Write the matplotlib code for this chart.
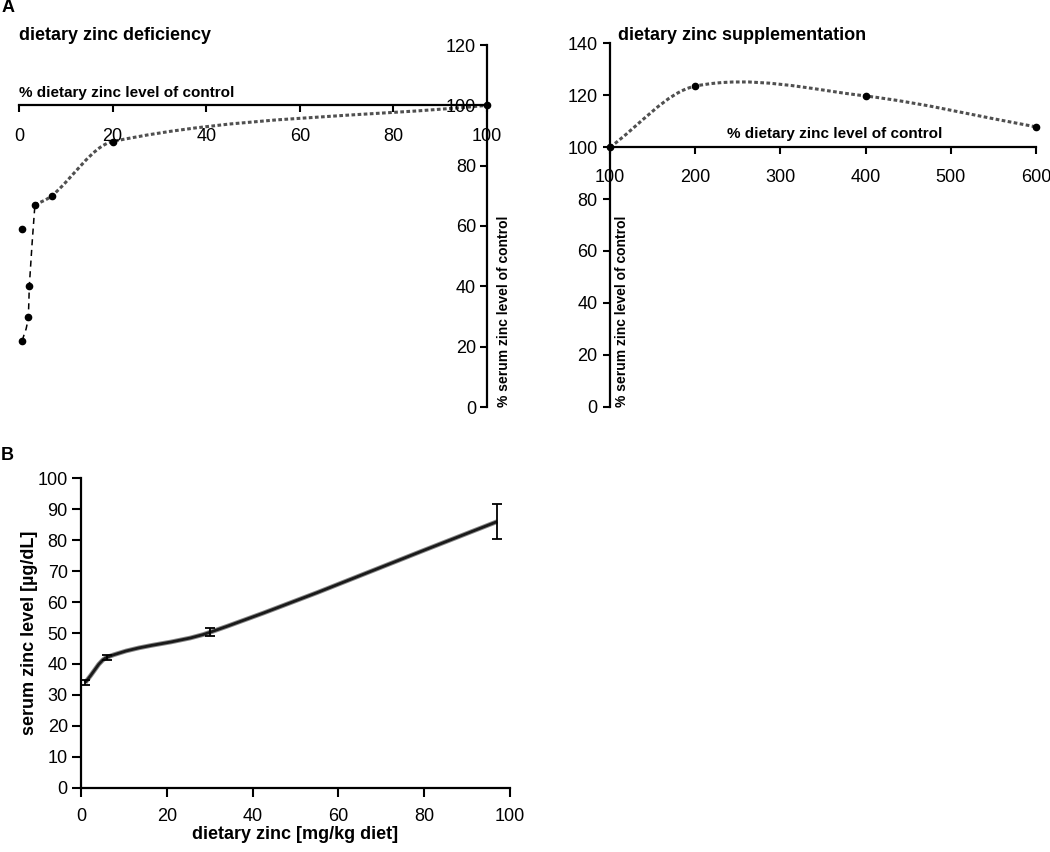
import numpy as np
import matplotlib
matplotlib.use("Agg")
import matplotlib.pyplot as plt
from matplotlib.path import Path
from matplotlib.patches import PathPatch

# -----------------------------------
# Data
# -----------------------------------

# panel A left: dietary zinc deficiency, % of control
defic_low_x = [0.7, 2.0, 2.2, 3.4]
defic_low_y = [22, 30, 40, 67]
defic_x = [3.4, 7, 20, 100]
defic_y = [67, 70, 88, 100]
defic_single_x = [0.7]
defic_single_y = [59]

# panel A right: dietary zinc supplementation, % of control
suppl_x = [100, 200, 400, 600]
suppl_y = [100, 123.5, 119.7, 107.8]

# panel B: serum zinc vs dietary zinc
diet_zinc = [1, 6, 30, 97]
serum_zinc = [34, 42.1, 50.2, 86]
serum_err = [0.7, 0.9, 1.3, 5.6]

A_xticks = [0, 20, 40, 60, 80, 100]
A_yticks = [0, 20, 40, 60, 80, 100, 120]
S_xticks = [100, 200, 300, 400, 500, 600]
S_yticks = [0, 20, 40, 60, 80, 100, 120, 140]
B_xticks = [0, 20, 40, 60, 80, 100]
B_yticks = list(range(0, 101, 10))

plt.rcParams["font.family"] = ["Liberation Sans", "DejaVu Sans"]


def smooth_path(xs, ys):
    # smoothed line like a spreadsheet chart: hermite pieces as bezier curves
    xs = np.asarray(xs, float)
    ys = np.asarray(ys, float)
    n = len(xs)
    m = np.empty(n)
    m[0] = (ys[1] - ys[0]) / (xs[1] - xs[0])
    m[-1] = (ys[-1] - ys[-2]) / (xs[-1] - xs[-2])
    for i in range(1, n - 1):
        m[i] = (ys[i + 1] - ys[i - 1]) / (xs[i + 1] - xs[i - 1])
    verts = [(xs[0], ys[0])]
    codes = [Path.MOVETO]
    for i in range(n - 1):
        h = xs[i + 1] - xs[i]
        verts += [(xs[i] + h / 3, ys[i] + m[i] * h / 3),
                  (xs[i + 1] - h / 3, ys[i + 1] - m[i + 1] * h / 3),
                  (xs[i + 1], ys[i + 1])]
        codes += [Path.CURVE4] * 3
    return Path(verts, codes)


def style_axes(ax, xpad, ypad, length=5):
    for s in ax.spines.values():
        s.set_linewidth(1.6)
    ax.tick_params(direction="out", length=length, width=1.5, labelsize=13)
    ax.tick_params(axis="x", pad=xpad)
    ax.tick_params(axis="y", pad=ypad)


fig = plt.figure(figsize=(10.5, 8.52), dpi=100)

# -----------------------------------
# Panel A, left
# -----------------------------------

ax1 = fig.add_axes([19 / 1050, 1 - 407 / 852, 468 / 1050, 362 / 852])
ax1.set_xlim(0, 100)
ax1.set_ylim(0, 120)
ax1.spines["top"].set_visible(False)
ax1.spines["right"].set_visible(False)
ax1.spines["left"].set_position(("data", 100))
ax1.spines["bottom"].set_position(("data", 100))
ax1.set_xticks(A_xticks)
ax1.set_yticks(A_yticks)
style_axes(ax1, xpad=11, ypad=3)
ax1.patch.set_visible(False)

ax1.add_patch(PathPatch(smooth_path(defic_low_x, defic_low_y), fill=False,
                        edgecolor="black", lw=1.1, linestyle=(0, (4, 3))))
ax1.add_patch(PathPatch(smooth_path(defic_x, defic_y), fill=False,
                        edgecolor="#505050", lw=2.2, linestyle=(0, (1.2, 0.8))))
ax1.plot(defic_low_x + defic_x[1:] + defic_single_x,
         defic_low_y + defic_y[1:] + defic_single_y,
         "o", color="black", ms=4.5, zorder=5, clip_on=False)

ax1.text(0, 102.6, "% dietary zinc level of control", fontsize=11,
         fontweight="bold", va="baseline", ha="left")
ax1.text(102.2, 0, "% serum zinc level of control", fontsize=10,
         fontweight="bold", rotation=90, va="bottom", ha="left")

# -----------------------------------
# Panel A, right
# -----------------------------------

ax2 = fig.add_axes([610 / 1050, 1 - 406.7 / 852, 426 / 1050, 363.4 / 852])
ax2.set_xlim(100, 600)
ax2.set_ylim(0, 140)
ax2.spines["top"].set_visible(False)
ax2.spines["right"].set_visible(False)
ax2.spines["bottom"].set_position(("data", 100))
ax2.set_xticks(S_xticks)
ax2.set_yticks(S_yticks)
style_axes(ax2, xpad=11, ypad=4)
ax2.patch.set_visible(False)

ax2.add_patch(PathPatch(smooth_path(suppl_x, suppl_y), fill=False,
                        edgecolor="#505050", lw=2.2, linestyle=(0, (1.2, 0.8))))
ax2.plot(suppl_x, suppl_y, "o", color="black", ms=4.5, zorder=5, clip_on=False)

ax2.text(364, 103.4, "% dietary zinc level of control", fontsize=11,
         fontweight="bold", va="baseline", ha="center")
ax2.text(106, 0, "% serum zinc level of control", fontsize=10,
         fontweight="bold", rotation=90, va="bottom", ha="left")

fig.text(19 / 1050, 1 - 36 / 852, "dietary zinc deficiency", fontsize=13,
         fontweight="bold", va="center", ha="left")
fig.text(618 / 1050, 1 - 36 / 852, "dietary zinc supplementation", fontsize=13,
         fontweight="bold", va="center", ha="left")

# -----------------------------------
# Panel B
# -----------------------------------

ax3 = fig.add_axes([81 / 1050, 1 - 787.7 / 852, 429 / 1050, 309.4 / 852])
ax3.set_xlim(0, 100)
ax3.set_ylim(0, 100)
ax3.spines["top"].set_visible(False)
ax3.spines["right"].set_visible(False)
ax3.set_xticks(B_xticks)
ax3.set_yticks(B_yticks)
style_axes(ax3, xpad=8, ypad=3, length=6.5)

path_b = smooth_path(diet_zinc, serum_zinc)
ax3.add_patch(PathPatch(path_b, fill=False, edgecolor="#8a8a8a", lw=3.4))
ax3.add_patch(PathPatch(path_b, fill=False, edgecolor="#1a1a1a", lw=2.0))
ax3.errorbar(diet_zinc, serum_zinc, yerr=serum_err, fmt="none", ecolor="black",
             elinewidth=1.3, capsize=3.5, capthick=1.3, zorder=5)

ax3.set_xlabel("dietary zinc [mg/kg diet]", fontsize=13, fontweight="bold")
ax3.set_ylabel("serum zinc level [µg/dL]", fontsize=13, fontweight="bold")
ax3.xaxis.set_label_coords(0.5, -0.125)
ax3.yaxis.set_label_coords(-0.1, 0.5)

fig.text(0.001, 1 - 7 / 852, "A", fontsize=13, fontweight="bold",
         va="center", ha="left")
fig.text(0.001, 1 - 455 / 852, "B", fontsize=13, fontweight="bold",
         va="center", ha="left")

fig.savefig("out.png", dpi=100)
